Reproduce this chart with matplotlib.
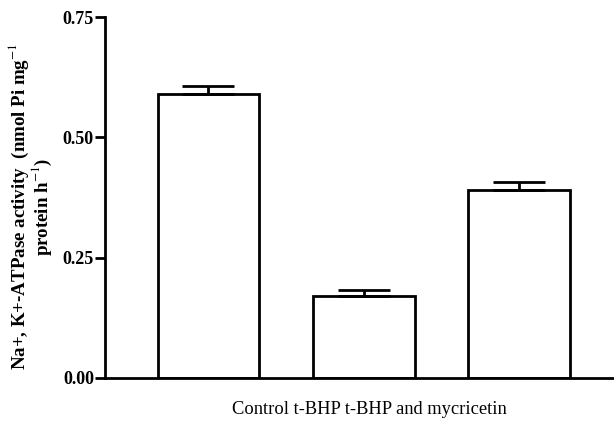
import numpy as np
import matplotlib
matplotlib.use('Agg')
import matplotlib.pyplot as plt

# Na+,K+-ATPase activity per group
groups = ['Control', 't-BHP', 't-BHP and mycricetin']
activity = [0.59, 0.17, 0.39]
sem = [0.017, 0.013, 0.018]
yticks = [0.00, 0.25, 0.50, 0.75]

plt.rcParams['font.family'] = ['Liberation Serif', 'DejaVu Serif']
plt.rcParams['mathtext.fontset'] = 'stix'

fig = plt.figure(figsize=(6.14, 4.21), dpi=100)
ax = fig.add_axes([105 / 614, 43 / 421, 1 - 105 / 614, (378 - 17) / 421])

x = np.arange(len(groups))
ax.bar(x, activity, width=0.656, color='white', edgecolor='black', linewidth=2)
ax.errorbar(x, activity, yerr=[np.zeros(3), sem], fmt='none', ecolor='black',
            elinewidth=2, capsize=19, capthick=2)

ax.set_xlim(-0.666, 2.61)
ax.set_ylim(0, 0.75)
ax.set_yticks(yticks)
ax.set_yticklabels(['%.2f' % v for v in yticks], fontweight='bold', fontsize=13)
ax.set_xticks([])
ax.tick_params(axis='y', length=7, width=2, pad=1)

for s in ['top', 'right']:
    ax.spines[s].set_visible(False)
for s in ['left', 'bottom']:
    ax.spines[s].set_linewidth(2)

ax.set_xlabel('Control t-BHP t-BHP and mycricetin', fontsize=13.3)
ax.xaxis.set_label_coords((369.5 - 105) / 509, -0.065)
ax.set_ylabel('Na+, K+-ATPase activity  (nmol Pi mg$^{-1}$\nprotein h$^{-1}$)',
              fontweight='bold', fontsize=13.6, linespacing=0.95)
ax.yaxis.set_label_coords(-0.1, 0.475)

fig.savefig('out.png', dpi=100)
